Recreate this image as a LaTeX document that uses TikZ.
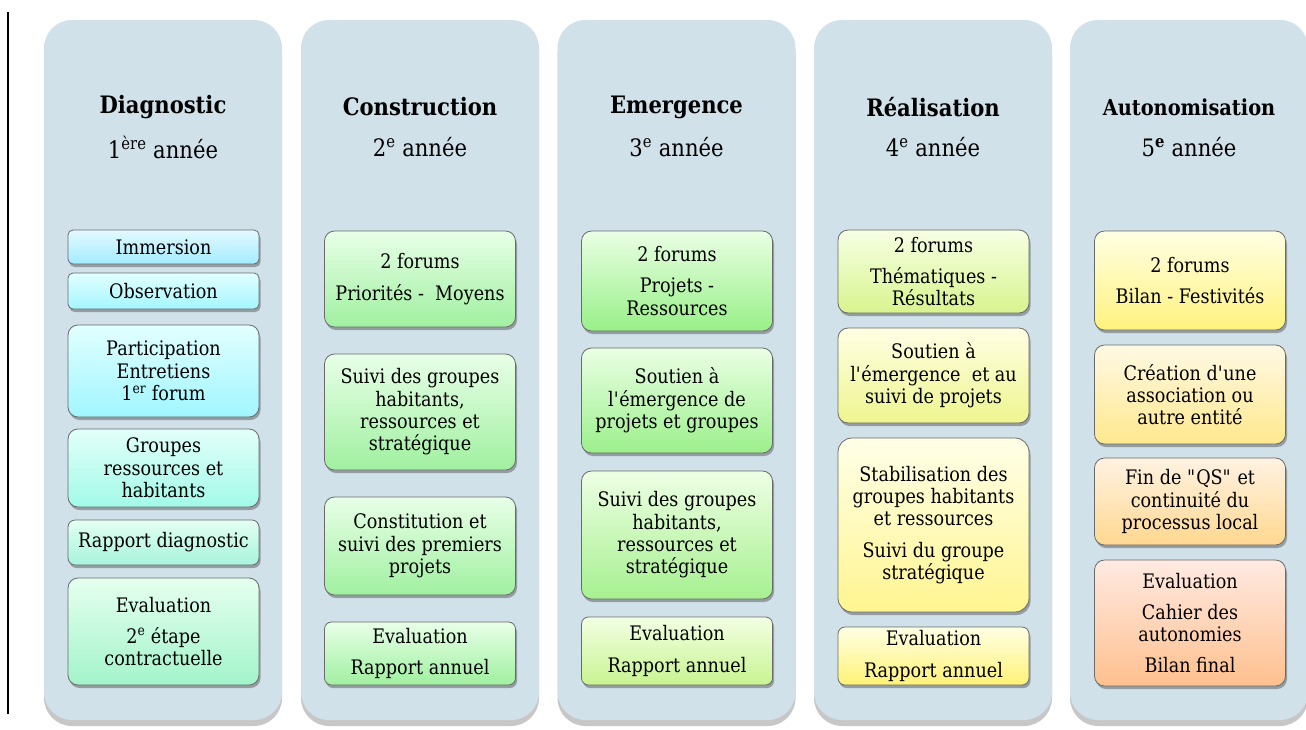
\documentclass[tikz,border=0pt]{standalone}
\usepackage{fontspec}
\setmainfont{DejaVu Serif}[FakeStretch=0.88]
\usetikzlibrary{shadows}
\definecolor{panelfill}{HTML}{D0E1E9}
\definecolor{boxline}{HTML}{6A6A6A}
\definecolor{a1t}{HTML}{E4F9FF}\definecolor{a1b}{HTML}{A2ECFF}
\definecolor{a2t}{HTML}{E2FFFF}\definecolor{a2b}{HTML}{A4F6FF}
\definecolor{a3t}{HTML}{E2FFFF}\definecolor{a3b}{HTML}{A0F6FF}
\definecolor{a4t}{HTML}{E2FFFA}\definecolor{a4b}{HTML}{A2FAE8}
\definecolor{a5t}{HTML}{E4FFF4}\definecolor{a5b}{HTML}{A6F4DA}
\definecolor{a6t}{HTML}{E6FFF0}\definecolor{a6b}{HTML}{A2F4CA}
\definecolor{bt}{HTML}{E8FFE8}\definecolor{bb}{HTML}{A0F0A0}
\definecolor{c1t}{HTML}{EAFFE4}\definecolor{c1b}{HTML}{98F088}
\definecolor{c2t}{HTML}{EAFFE4}\definecolor{c2b}{HTML}{9CF08C}
\definecolor{c3t}{HTML}{EEFFE4}\definecolor{c3b}{HTML}{A6F090}
\definecolor{c4t}{HTML}{F2FFE4}\definecolor{c4b}{HTML}{C8F490}
\definecolor{d1t}{HTML}{F6FFE4}\definecolor{d1b}{HTML}{D8F48E}
\definecolor{d2t}{HTML}{FFFFE4}\definecolor{d2b}{HTML}{EEF58E}
\definecolor{d3t}{HTML}{FFFFE8}\definecolor{d3b}{HTML}{FFF590}
\definecolor{d4t}{HTML}{FFFFE4}\definecolor{d4b}{HTML}{FFF276}
\definecolor{e1t}{HTML}{FFFFE4}\definecolor{e1b}{HTML}{FFF27E}
\definecolor{e2t}{HTML}{FFF9E4}\definecolor{e2b}{HTML}{FFE88E}
\definecolor{e3t}{HTML}{FFF2E2}\definecolor{e3b}{HTML}{FFD890}
\definecolor{e4t}{HTML}{FFEAE2}\definecolor{e4b}{HTML}{FFC08E}
\tikzset{
  panel/.style={fill=panelfill, draw=none, rounded corners=28pt, minimum width=238pt, minimum height=700pt,
    drop shadow={shadow xshift=0pt, shadow yshift=-6pt, opacity=0.4, fill=black!55}},
  title/.style={font=\fontsize{24}{28}\selectfont\bfseries, inner sep=0pt},
  year/.style={font=\fontsize{24}{28}\selectfont, inner sep=0pt},
  box/.style={draw=boxline, line width=0.8pt, rounded corners=10pt, align=center, inner sep=2pt,
    font=\fontsize{20}{22.3}\selectfont, minimum width=191pt,
    drop shadow={shadow xshift=1.5pt, shadow yshift=-3pt, opacity=0.45, fill=black!70}},
  sbox/.style={box, rounded corners=5pt},
  grad/.style 2 args={top color=#1, bottom color=#2},
}
\begin{document}
\begin{tikzpicture}[x=1pt,y=-1pt]
\useasboundingbox (0,0) rectangle (1306,729);
\coordinate (l1) at (7.5,12);
\coordinate (l2) at (7.5,714);
\draw[line width=2pt] (l1) -- (l2);

% panels
\node[panel] (p1) at (163,370) {};
\node[panel] (p2) at (420,370) {};
\node[panel] (p3) at (676.5,370) {};
\node[panel] (p4) at (933,370) {};
\node[panel] (p5) at (1189,370) {};

% titles
\node[title] (t1) at (163,107) {Diagnostic};
\node[year]  (y1) at (163,147) {1\textsuperscript{ère} année};
\node[title] (t2) at (420,107) {Construction};
\node[year]  (y2) at (420,147) {2\textsuperscript{e} année};
\node[title] (t3) at (676.5,107) {Emergence};
\node[year]  (y3) at (676.5,147) {3\textsuperscript{e} année};
\node[title] (t4) at (933,107) {Réalisation};
\node[year]  (y4) at (933,147) {4\textsuperscript{e} année};
\node[title, font=\fontsize{22}{26}\selectfont\bfseries] (t5) at (1189,107) {Autonomisation};
\node[year]  (y5) at (1189,147) {5\textsuperscript{\bfseries e} année};

% column 1
\node[sbox, grad={a1t}{a1b}, minimum height=34pt] (a1) at (163.5,247) {Immersion};
\node[sbox, grad={a2t}{a2b}, minimum height=36pt] (a2) at (163.5,291) {Observation};
\node[box, grad={a3t}{a3b}, minimum height=92pt] (a3) at (163.5,371) {Participation\\Entretiens\\1\textsuperscript{er} forum};
\node[box, grad={a4t}{a4b}, minimum height=78pt] (a4) at (163.5,468) {Groupes\\ressources et\\habitants};
\node[box, grad={a5t}{a5b}, minimum height=45pt, rounded corners=7pt] (a5) at (163.5,542.5) {Rapport diagnostic};
\node[box, grad={a6t}{a6b}, minimum height=107pt] (a6) at (163.5,631.5) {Evaluation\\[9pt]2\textsuperscript{e} étape\\contractuelle};

% column 2
\node[box, grad={bt}{bb}, minimum height=96pt] (b1) at (420,279) {2 forums\\[9pt]Priorités -~~Moyens};
\node[box, grad={bt}{bb}, minimum height=116pt] (b2) at (420,412) {Suivi des groupes\\habitants,\\ressources et\\stratégique};
\node[box, grad={bt}{bb}, minimum height=98pt] (b3) at (420,546) {Constitution et\\suivi des premiers\\projets};
\node[box, grad={bt}{bb}, minimum height=63pt, rounded corners=7pt] (b4) at (420,653.5) {Evaluation\\[9pt]Rapport annuel};

% column 3
\node[box, grad={c1t}{c1b}, minimum height=100pt] (c1) at (677,281) {2 forums\\[9pt]Projets -\\Ressources};
\node[box, grad={c2t}{c2b}, minimum height=105pt] (c2) at (677,400.5) {Soutien à\\l\textquotesingle émergence de\\projets et groupes};
\node[box, grad={c3t}{c3b}, minimum height=128pt] (c3) at (677,535) {Suivi des groupes\\habitants,\\ressources et\\stratégique};
\node[box, grad={c4t}{c4b}, minimum height=68pt, rounded corners=7pt] (c4) at (677,651) {Evaluation\\[9pt]Rapport annuel};

% column 4
\node[box, grad={d1t}{d1b}, minimum height=83pt] (d1) at (933.5,271.5) {2 forums\\[9pt]Thématiques -\\Résultats};
\node[box, grad={d2t}{d2b}, minimum height=95pt] (d2) at (933.5,375.5) {Soutien à\\l\textquotesingle émergence~ et au\\suivi de projets};
\node[box, grad={d3t}{d3b}, minimum height=174pt, rounded corners=14pt] (d3) at (933.5,525) {Stabilisation des\\groupes habitants\\et ressources\\[9pt]Suivi du groupe\\stratégique};
\node[box, grad={d4t}{d4b}, minimum height=58pt, rounded corners=7pt] (d4) at (933.5,656) {Evaluation\\[9pt]Rapport annuel};

% column 5
\node[box, grad={e1t}{e1b}, minimum height=99pt] (e1) at (1190,280.5) {2 forums\\[9pt]Bilan - Festivités};
\node[box, grad={e2t}{e2b}, minimum height=99pt] (e2) at (1190,394.5) {Création d\textquotesingle une\\association ou\\autre entité};
\node[box, grad={e3t}{e3b}, minimum height=87pt] (e3) at (1190,501.5) {Fin de \textquotedbl QS\textquotedbl{} et\\continuité du\\processus local};
\node[box, grad={e4t}{e4b}, minimum height=126pt] (e4) at (1190,623) {Evaluation\\[9pt]Cahier des\\autonomies\\[9pt]Bilan final};
\end{tikzpicture}
\end{document}
